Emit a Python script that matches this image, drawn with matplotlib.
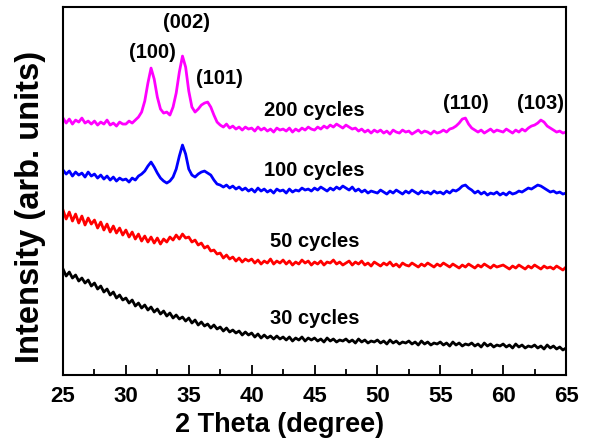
import numpy as np
import matplotlib
matplotlib.use("Agg")
import matplotlib.pyplot as plt
from matplotlib.ticker import MultipleLocator

plt.rcParams['font.family'] = ['Liberation Sans', 'DejaVu Sans']
plt.rcParams['font.weight'] = 'bold'

# 2 theta, 0.25 degree steps from 25 to 65
two_theta = np.arange(25, 65.001, 0.25)

# intensity (arb. units), curves already offset
cyc200 = [257, 252, 256, 251, 255, 253, 257, 252, 254, 251,
          254, 250, 253, 251, 255, 250, 252, 249, 253, 251,
          251, 254, 252, 255, 258, 263, 274, 292, 307, 296,
          278, 266, 262, 263, 260, 268, 282, 303, 319, 308,
          284, 268, 263, 266, 270, 272, 273, 268, 260, 253,
          250, 248, 251, 247, 249, 246, 248, 245, 248, 246,
          247, 244, 248, 245, 247, 244, 246, 243, 247, 245,
          246, 244, 247, 243, 246, 244, 247, 245, 248, 246,
          245, 248, 246, 249, 247, 250, 248, 251, 249, 247,
          250, 248, 246, 247, 244, 246, 243, 245, 242, 245,
          243, 245, 242, 244, 241, 245, 243, 242, 245, 243,
          244, 241, 243, 245, 242, 244, 243, 241, 244, 242,
          243, 245, 243, 246, 247, 249, 252, 256, 257, 251,
          247, 245, 243, 245, 242, 244, 246, 243, 245, 244,
          243, 246, 244, 242, 245, 243, 246, 244, 247, 249,
          250, 252, 255, 253, 249, 247, 245, 243, 244, 242,
          243]

cyc100 = [205, 201, 204, 199, 203, 200, 202, 198, 203, 199,
          201, 197, 200, 196, 199, 195, 198, 194, 197, 195,
          196, 193, 197, 195, 199, 201, 204, 209, 213, 208,
          202, 197, 194, 192, 194, 198, 206, 219, 230, 221,
          206, 200, 198, 201, 203, 204, 202, 200, 195, 191,
          190, 188, 190, 187, 189, 186, 188, 185, 187, 184,
          186, 183, 187, 184, 186, 183, 185, 182, 186, 184,
          185, 182, 186, 183, 185, 184, 187, 185, 186, 184,
          187, 185, 188, 186, 184, 187, 185, 188, 186, 189,
          187, 185, 188, 184, 186, 183, 185, 182, 184, 183,
          182, 185, 183, 181, 184, 182, 185, 183, 181, 184,
          182, 185, 183, 181, 184, 182, 183, 181, 184, 182,
          183, 181, 184, 182, 185, 184, 186, 189, 190, 187,
          185, 182, 184, 181, 183, 180, 182, 181, 183, 180,
          182, 180, 183, 181, 182, 184, 183, 185, 187, 186,
          188, 190, 189, 187, 185, 183, 184, 182, 183, 181,
          182]

cyc50 = [165, 156, 163, 154, 161, 152, 159, 150, 157, 151,
         155, 147, 153, 145, 151, 143, 149, 142, 147, 140,
         145, 138, 143, 136, 141, 134, 139, 133, 138, 132,
         137, 131, 136, 133, 138, 135, 140, 136, 141, 137,
         138, 133, 135, 130, 132, 127, 129, 124, 125, 121,
         122, 117, 120, 116, 118, 114, 117, 113, 116, 114,
         116, 112, 115, 111, 114, 112, 116, 111, 114, 112,
         115, 111, 114, 110, 113, 111, 115, 112, 114, 110,
         113, 111, 114, 110, 113, 112, 115, 111, 113, 110,
         112, 114, 110, 113, 111, 114, 110, 112, 109, 113,
         111, 109, 112, 110, 113, 109, 111, 108, 112, 110,
         109, 112, 110, 108, 111, 109, 112, 110, 108, 111,
         109, 112, 110, 108, 111, 109, 107, 110, 108, 111,
         109, 107, 110, 108, 111, 109, 107, 110, 108, 109,
         110, 108, 106, 109, 107, 110, 108, 106, 109, 107,
         110, 108, 106, 109, 107, 108, 106, 109, 107, 105,
         108]

cyc30 = [106, 99, 103, 97, 100, 94, 97, 92, 95, 89,
         92, 86, 89, 83, 86, 80, 83, 77, 80, 75,
         77, 72, 75, 69, 72, 67, 70, 65, 68, 63,
         66, 61, 64, 59, 62, 57, 60, 56, 58, 54,
         57, 52, 55, 50, 53, 49, 51, 47, 50, 46,
         48, 44, 47, 43, 45, 42, 44, 40, 43, 40,
         42, 38, 41, 37, 40, 37, 39, 36, 39, 36,
         38, 35, 38, 34, 37, 35, 38, 34, 37, 35,
         37, 34, 36, 33, 37, 34, 36, 33, 35, 34,
         36, 33, 35, 32, 36, 33, 35, 32, 34, 33,
         35, 32, 34, 31, 35, 32, 34, 31, 33, 32,
         34, 31, 33, 30, 34, 31, 33, 30, 32, 31,
         33, 30, 32, 29, 33, 30, 32, 29, 31, 30,
         32, 29, 31, 28, 32, 29, 31, 28, 30, 29,
         31, 28, 30, 27, 31, 28, 30, 27, 29, 28,
         30, 27, 29, 26, 30, 27, 29, 26, 28, 25,
         27]

series = [(cyc30, 'black', '30 cycles', 57),
          (cyc50, 'red', '50 cycles', 134),
          (cyc100, 'blue', '100 cycles', 205),
          (cyc200, 'magenta', '200 cycles', 265)]

peaks = ['(100)', '(002)', '(101)', '(110)', '(103)']
peak_x = [32.1, 34.8, 37.4, 57.05, 63.0]
peak_y = [323, 353, 297, 272, 272]

fig = plt.figure(figsize=(5.89, 4.43), dpi=100)
ax = fig.add_axes([0.107, 0.1535, 0.854, 0.8305])

for vals, col, lab, ly in series:
    ax.plot(two_theta, vals, color=col, lw=2.0)
    ax.text(45.0, ly, lab, ha='center', va='center', fontsize=14.5, fontweight='bold')

for p, px, py in zip(peaks, peak_x, peak_y):
    ax.text(px, py, p, ha='center', va='center', fontsize=14.5, fontweight='bold')

ax.set_xlim(25, 65)
ax.set_ylim(0, 368)
ax.set_yticks([])
ax.xaxis.set_major_locator(MultipleLocator(5))
ax.xaxis.set_minor_locator(MultipleLocator(2.5))
ax.tick_params(axis='x', which='major', direction='in', length=7, width=1.3,
               labelsize=16, pad=8)
ax.tick_params(axis='x', which='minor', direction='in', length=4, width=1.3)
for lbl in ax.get_xticklabels():
    lbl.set_fontweight('bold')
for s in ax.spines.values():
    s.set_linewidth(1.5)

ax.set_xlabel('2 Theta (degree)', fontsize=19.5, fontweight='bold')
ax.xaxis.set_label_coords(0.43, -0.1)
ax.set_ylabel('Intensity (arb. units)', fontsize=23.5, fontweight='bold')
ax.yaxis.set_label_coords(-0.033, 0.457)

fig.savefig('out.png', dpi=100)
